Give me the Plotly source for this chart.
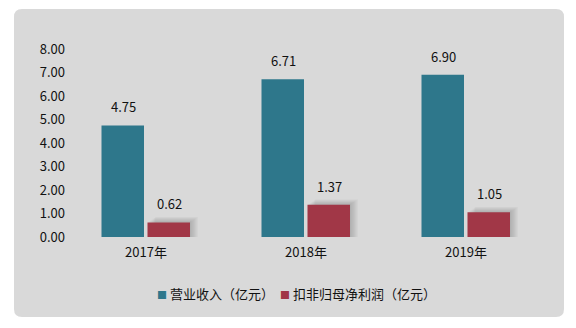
import plotly.graph_objects as go

# Yearly figures (unit: 100 million yuan)
years = ["2017年", "2018年", "2019年"]
revenue = [4.75, 6.71, 6.90]
net_profit = [0.62, 1.37, 1.05]
series_names = ["营业收入（亿元）", "扣非归母净利润（亿元）"]
y_ticks = [0, 1, 2, 3, 4, 5, 6, 7, 8]

TEAL = "#2E778B"
RED = "#A13747"
PANEL = "#D9D9D9"
FONT = "Noto Sans CJK SC, Microsoft YaHei, sans-serif"

W, H = 576, 328
L, R, T, B = 66, 30, 49, 91
PW, PH = W - L - R, H - T - B
CAT_PX = PW / len(years)          # pixels per category slot
UNIT_PX = PH / 8                  # pixels per y unit

BAR_W = 42.5 / CAT_PX
TEAL_OFF = -44.5 / CAT_PX
RED_OFF = 1.5 / CAT_PX

fig = go.Figure()

# soft drop shadow behind the profit bars (stacked translucent layers)
for k in range(1, 7):
    fig.add_trace(go.Bar(
        x=years, y=[v + k * 0.9 / UNIT_PX for v in net_profit],
        offset=RED_OFF + k * 1.3 / CAT_PX, width=BAR_W,
        marker=dict(color="rgba(70,70,70,0.05)", line=dict(width=0)),
        showlegend=False, hoverinfo="skip"))

fig.add_trace(go.Bar(x=years, y=revenue, name=series_names[0],
                     offset=TEAL_OFF, width=BAR_W, showlegend=False,
                     marker=dict(color=TEAL, line=dict(width=0))))
fig.add_trace(go.Bar(x=years, y=net_profit, name=series_names[1],
                     offset=RED_OFF, width=BAR_W, showlegend=False,
                     marker=dict(color=RED, line=dict(width=0))))

# value labels above each bar
annotations = []
for vals, shift in ((revenue, -23), (net_profit, 23)):
    for yr, v in zip(years, vals):
        annotations.append(dict(
            x=yr, y=v, xref="x", yref="y", text=f"{v:.2f}",
            showarrow=False, xshift=shift, yanchor="bottom", yshift=7,
            font=dict(family=FONT, size=13, color="#111111")))


def px_x(px):
    return (px - L) / PW


def px_y(py):
    return (H - B - py) / PH


# series key below the axis: small coloured square + series name
for name, color, left in ((series_names[0], TEAL, 155),
                          (series_names[1], RED, 278)):
    annotations.append(dict(
        x=px_x(left), y=px_y(293), xref="paper", yref="paper",
        xanchor="left", yanchor="middle", showarrow=False,
        text=f"<span style='color:{color};font-size:10px'>■</span> {name}",
        font=dict(family=FONT, size=13, color="#111111")))

# rounded grey panel behind the chart
x0, x1 = px_x(14), px_x(564)
y0, y1 = px_y(317), px_y(9)
rx, ry = 8 / PW, 8 / PH
panel_path = (
    f"M{x0 + rx},{y1} L{x1 - rx},{y1} Q{x1},{y1} {x1},{y1 - ry} "
    f"L{x1},{y0 + ry} Q{x1},{y0} {x1 - rx},{y0} "
    f"L{x0 + rx},{y0} Q{x0},{y0} {x0},{y0 + ry} "
    f"L{x0},{y1 - ry} Q{x0},{y1} {x0 + rx},{y1} Z"
)

fig.update_layout(
    width=W, height=H,
    margin=dict(l=L, r=R, t=T, b=B),
    paper_bgcolor="white",
    plot_bgcolor="rgba(0,0,0,0)",
    barmode="overlay",
    font=dict(family=FONT, size=13, color="#111111"),
    shapes=[dict(type="path", path=panel_path, xref="paper", yref="paper",
                 fillcolor=PANEL, line=dict(width=0), layer="below")],
    annotations=annotations,
    showlegend=False,
    xaxis=dict(showgrid=False, showline=False, ticks="", zeroline=False,
               tickfont=dict(size=13), ticklabelstandoff=6),
    yaxis=dict(range=[0, 8], tickvals=y_ticks,
               ticktext=[f"{v:.2f}" for v in y_ticks],
               showgrid=False, zeroline=False, showline=False, ticks="",
               tickfont=dict(size=13)),
)

fig.write_html("out.html")
